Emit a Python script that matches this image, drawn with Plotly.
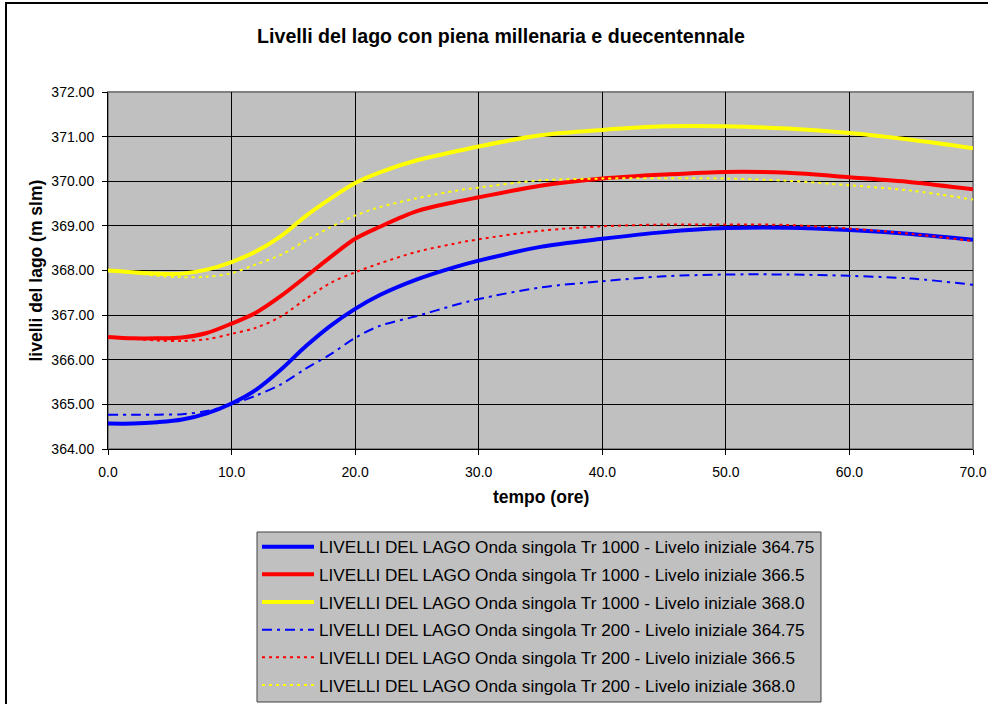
import plotly.graph_objects as go

# ---- data ----
tempo = [0, 2, 4, 6, 8, 10, 12, 14, 16, 18, 20, 22, 25, 28, 30, 35, 40, 45, 50, 55, 60, 65, 70]

tr1000_36475 = [364.57, 364.57, 364.60, 364.66, 364.80, 365.02, 365.33, 365.78, 366.30, 366.76, 367.14,
                367.45, 367.80, 368.07, 368.22, 368.53, 368.71, 368.86, 368.95, 368.96, 368.91, 368.82, 368.69]
tr1000_3665 = [366.51, 366.48, 366.48, 366.50, 366.60, 366.81, 367.06, 367.43, 367.86, 368.30, 368.71,
               368.98, 369.33, 369.53, 369.64, 369.90, 370.06, 370.15, 370.21, 370.19, 370.09, 369.98, 369.82]
tr1000_3680 = [368.00, 367.96, 367.93, 367.93, 368.02, 368.19, 368.43, 368.77, 369.22, 369.61, 369.96,
               370.20, 370.47, 370.66, 370.78, 371.03, 371.15, 371.23, 371.23, 371.18, 371.08, 370.93, 370.74]
tr200_36475 = [364.77, 364.77, 364.77, 364.78, 364.85, 365.00, 365.20, 365.45, 365.80, 366.12, 366.49,
               366.76, 366.98, 367.22, 367.36, 367.62, 367.76, 367.87, 367.91, 367.91, 367.88, 367.82, 367.68]
tr200_3665 = [366.50, 366.47, 366.43, 366.42, 366.46, 366.58, 366.72, 366.97, 367.36, 367.72, 367.96,
              368.16, 368.42, 368.60, 368.70, 368.89, 368.99, 369.03, 369.03, 369.02, 368.94, 368.82, 368.66]
tr200_3680 = [368.00, 367.95, 367.88, 367.85, 367.86, 367.94, 368.14, 368.35, 368.67, 368.97, 369.23,
              369.42, 369.62, 369.78, 369.86, 370.02, 370.06, 370.07, 370.06, 370.01, 369.91, 369.79, 369.59]

nomi = [
    "LIVELLI DEL LAGO Onda singola Tr 1000 - Livelo iniziale 364.75",
    "LIVELLI DEL LAGO Onda singola Tr 1000 - Livelo iniziale 366.5",
    "LIVELLI DEL LAGO Onda singola Tr 1000 - Livelo iniziale 368.0",
    "LIVELLI DEL LAGO Onda singola Tr 200 - Livelo iniziale 364.75",
    "LIVELLI DEL LAGO Onda singola Tr 200 - Livelo iniziale 366.5",
    "LIVELLI DEL LAGO Onda singola Tr 200 - Livelo iniziale 368.0",
]
serie = [tr1000_36475, tr1000_3665, tr1000_3680, tr200_36475, tr200_3665, tr200_3680]
colori = ["#0000FF", "#FF0000", "#FFFF00", "#0000FF", "#FF0000", "#FFFF00"]
spessori = [4, 4, 4, 2, 2, 2]
tratti = ["solid", "solid", "solid", "10px,5px,3px,5px", "3px,4px", "3px,4px"]

FONT = "Liberation Sans, Arial, sans-serif"

fig = go.Figure()
for i, (n, s) in enumerate(zip(nomi, serie)):
    fig.add_trace(go.Scatter(
        x=tempo, y=s, mode="lines", name=n, legendgroup=f"g{i}",
        line=dict(color=colori[i], width=spessori[i], dash=tratti[i], shape="spline", smoothing=0.9),
    ))

# plot area geometry
L, R, T, B = 108, 973, 92, 449
W, H = 988, 704
pw, ph = R - L, B - T

def px_x(p):
    return (p - L) / pw

def px_y(p):
    return (B - p) / ph

fig.update_layout(
    template="none",
    width=W, height=H,
    margin=dict(l=L, r=W - R, t=T, b=H - B, pad=0, autoexpand=False),
    paper_bgcolor="white",
    plot_bgcolor="#C0C0C0",
    font=dict(family=FONT, color="black", size=14),
    title=dict(text="<b>Livelli del lago con piena millenaria e duecentennale</b>",
               x=501 / W, y=1 - 36 / H, xref="container", yref="container",
               xanchor="center", yanchor="middle",
               font=dict(family=FONT, size=19.6, color="black")),
    showlegend=True,
    legend=dict(x=px_x(257), y=px_y(529), xanchor="left", yanchor="top",
                bgcolor="rgba(0,0,0,0)", borderwidth=0,
                font=dict(family=FONT, size=17.2, color="black"),
                itemwidth=52, tracegroupgap=2.3, traceorder="grouped"),
    xaxis=dict(range=[0, 70], dtick=10, tick0=0, tickformat=".1f",
               showgrid=True, gridcolor="#000000", gridwidth=1,
               showline=True, linecolor="black", linewidth=1,
               ticks="outside", ticklen=5, tickcolor="black", ticklabelstandoff=5,
               zeroline=False, automargin=False, tickfont=dict(size=14)),
    yaxis=dict(range=[364, 372], dtick=1, tick0=364, tickformat=".2f",
               showgrid=True, gridcolor="#000000", gridwidth=1,
               showline=True, linecolor="black", linewidth=1,
               ticks="outside", ticklen=5, tickcolor="black", ticklabelstandoff=5,
               zeroline=False, automargin=False, tickfont=dict(size=14)),
    annotations=[
        dict(text="<b>tempo (ore)</b>", xref="paper", yref="paper",
             x=0.5, y=px_y(497), xanchor="center", yanchor="middle",
             showarrow=False, font=dict(family=FONT, size=17.5, color="black")),
        dict(text="<b>livelli del lago (m slm)</b>", xref="paper", yref="paper",
             x=px_x(35), y=0.5, xanchor="center", yanchor="middle", textangle=-90,
             showarrow=False, font=dict(family=FONT, size=17.5, color="black")),
    ],
    shapes=[
        dict(type="rect", xref="paper", yref="paper", x0=0, x1=1, y0=0, y1=1,
             line=dict(color="#808080", width=2), layer="below"),
        # legend box
        dict(type="rect", xref="paper", yref="paper",
             x0=px_x(257), x1=px_x(821), y0=px_y(702), y1=px_y(532),
             fillcolor="#C0C0C0", line=dict(color="#404040", width=1), layer="below"),
        # chart-area frame
        dict(type="rect", xref="paper", yref="paper",
             x0=px_x(6), x1=px_x(1000), y0=px_y(730), y1=px_y(3),
             line=dict(color="black", width=2), layer="above"),
    ],
)

fig.write_html("out.html")
